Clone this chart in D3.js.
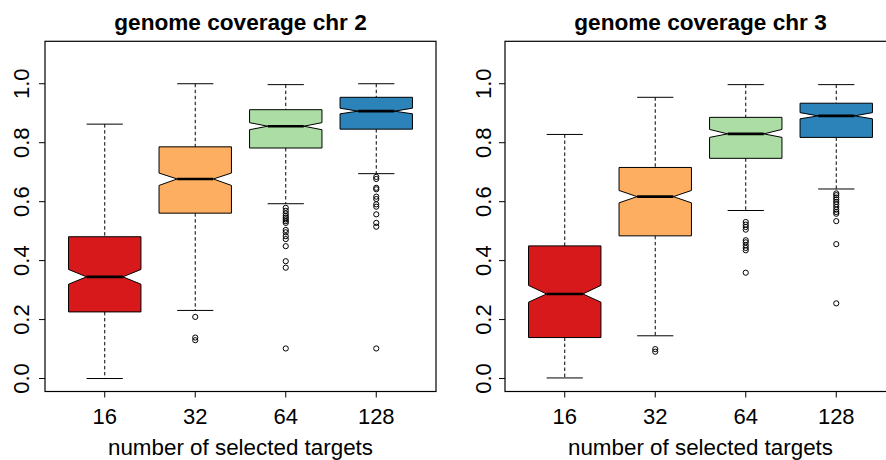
<!DOCTYPE html>
<html>
<head>
<meta charset="utf-8">
<script src="https://cdn.jsdelivr.net/npm/d3@7"></script>
<style>
  html, body { margin: 0; padding: 0; background: #fff; }
  svg { display: block; }
  text { font-family: "Liberation Sans", Arial, Helvetica, sans-serif; fill: #000; }
</style>
</head>
<body>
<svg id="chart" width="886" height="460"></svg>
<script>
// Groups on the x axis
const categories = ["16", "32", "64", "128"];
const boxColors = ["#D7191C", "#FDAE61", "#ABDDA4", "#2B83BA"];
const yTicks = [0.0, 0.2, 0.4, 0.6, 0.8, 1.0];
const yTickLabels = ["0.0", "0.2", "0.4", "0.6", "0.8", "1.0"];
const xAxisTitle = "number of selected targets";

// chromosome 2 summaries, one entry per group
const chr2WhiskerLow  = [0.000, 0.231, 0.593, 0.695];
const chr2Q1          = [0.226, 0.561, 0.782, 0.846];
const chr2Median      = [0.345, 0.677, 0.856, 0.907];
const chr2Q3          = [0.481, 0.786, 0.912, 0.954];
const chr2WhiskerHigh = [0.863, 1.000, 0.997, 1.000];
const chr2NotchLow    = [0.320, 0.655, 0.844, 0.898];
const chr2NotchHigh   = [0.370, 0.697, 0.868, 0.917];
const chr2Outliers = [
  [],
  [0.209, 0.139, 0.130],
  [0.579, 0.569, 0.560, 0.552, 0.546, 0.540, 0.534, 0.528, 0.504, 0.496, 0.483, 0.473, 0.449, 0.398, 0.376, 0.102],
  [0.684, 0.677, 0.647, 0.642, 0.617, 0.609, 0.591, 0.583, 0.557, 0.528, 0.515, 0.102]
];

// chromosome 3 summaries
const chr3WhiskerLow  = [0.002, 0.145, 0.570, 0.643];
const chr3Q1          = [0.139, 0.484, 0.747, 0.818];
const chr3Median      = [0.287, 0.617, 0.830, 0.891];
const chr3Q3          = [0.450, 0.716, 0.886, 0.934];
const chr3WhiskerHigh = [0.828, 0.954, 0.997, 0.997];
const chr3NotchLow    = [0.259, 0.596, 0.818, 0.881];
const chr3NotchHigh   = [0.316, 0.638, 0.845, 0.902];
const chr3Outliers = [
  [],
  [0.0998, 0.091],
  [0.531, 0.522, 0.514, 0.505, 0.469, 0.462, 0.452, 0.443, 0.435, 0.359],
  [0.628, 0.622, 0.614, 0.607, 0.599, 0.591, 0.582, 0.573, 0.565, 0.559, 0.534, 0.456, 0.255]
];

function buildStats(lo, q1, med, q3, hi, nlo, nhi, outs) {
  return categories.map((c, i) => ({
    cat: c, idx: i + 1, color: boxColors[i],
    lo: lo[i], q1: q1[i], med: med[i], q3: q3[i], hi: hi[i],
    nlo: nlo[i], nhi: nhi[i], outliers: outs[i]
  }));
}

const panels = [
  { title: "genome coverage chr 2", left: 45, right: 436, labelX: 28.5,
    stats: buildStats(chr2WhiskerLow, chr2Q1, chr2Median, chr2Q3, chr2WhiskerHigh, chr2NotchLow, chr2NotchHigh, chr2Outliers) },
  { title: "genome coverage chr 3", left: 505, right: 896, labelX: 490.5,
    stats: buildStats(chr3WhiskerLow, chr3Q1, chr3Median, chr3Q3, chr3WhiskerHigh, chr3NotchLow, chr3NotchHigh, chr3Outliers) }
];

const svg = d3.select("#chart");
const plotTop = 41.3, plotBottom = 391.5;
const fontSize = 22;
const titleSize = 22.6;
const labSize = 22.4;

const y = d3.scaleLinear().domain([-0.044, 1.144]).range([plotBottom, plotTop]);

panels.forEach(p => {
  const g = svg.append("g");
  const x = d3.scaleLinear().domain([0.34, 4.66]).range([p.left, p.right]);
  const halfBox = x(1.4) - x(1);        // boxes are 0.8 units wide
  const halfStaple = halfBox * 0.5;
  const notchIn = halfBox * 0.5;

  // plot frame
  g.append("rect")
    .attr("x", p.left).attr("y", plotTop)
    .attr("width", p.right - p.left).attr("height", plotBottom - plotTop)
    .attr("fill", "none").attr("stroke", "#000").attr("stroke-width", 1.2);

  // title
  g.append("text")
    .attr("x", (p.left + p.right) / 2).attr("y", 29.5)
    .attr("text-anchor", "middle")
    .style("font-size", titleSize + "px").style("font-weight", "bold")
    .text(p.title);

  // y axis ticks and rotated labels
  const yAxis = g.append("g");
  yAxis.selectAll("line").data(yTicks).join("line")
    .attr("x1", p.left - 6).attr("x2", p.left)
    .attr("y1", d => y(d)).attr("y2", d => y(d))
    .attr("stroke", "#000").attr("stroke-width", 1);
  yAxis.selectAll("text").data(yTicks).join("text")
    .attr("transform", d => `translate(${p.labelX},${y(d)}) rotate(-90)`)
    .attr("text-anchor", "middle")
    .style("font-size", fontSize + "px")
    .text((d, i) => yTickLabels[i]);

  // x axis ticks and labels
  const xAxis = g.append("g");
  xAxis.selectAll("line").data(p.stats).join("line")
    .attr("x1", d => x(d.idx)).attr("x2", d => x(d.idx))
    .attr("y1", plotBottom).attr("y2", plotBottom + 6)
    .attr("stroke", "#000").attr("stroke-width", 1);
  xAxis.selectAll("text").data(p.stats).join("text")
    .attr("x", d => x(d.idx)).attr("y", 423.5)
    .attr("text-anchor", "middle")
    .style("font-size", fontSize + "px")
    .text(d => d.cat);

  g.append("text")
    .attr("x", (p.left + p.right) / 2).attr("y", 454.5)
    .attr("text-anchor", "middle")
    .style("font-size", labSize + "px")
    .text(xAxisTitle);

  const boxes = g.selectAll("g.box").data(p.stats).join("g").attr("class", "box");

  // dashed whiskers
  boxes.append("line")
    .attr("x1", d => x(d.idx)).attr("x2", d => x(d.idx))
    .attr("y1", d => y(d.hi)).attr("y2", d => y(d.q3))
    .attr("stroke", "#000").attr("stroke-dasharray", "3.5,2.5");
  boxes.append("line")
    .attr("x1", d => x(d.idx)).attr("x2", d => x(d.idx))
    .attr("y1", d => y(d.q1)).attr("y2", d => y(d.lo))
    .attr("stroke", "#000").attr("stroke-dasharray", "3.5,2.5");

  // staples
  ["hi", "lo"].forEach(k => {
    boxes.append("line")
      .attr("x1", d => x(d.idx) - halfStaple).attr("x2", d => x(d.idx) + halfStaple)
      .attr("y1", d => y(d[k])).attr("y2", d => y(d[k]))
      .attr("stroke", "#000").attr("stroke-width", 1);
  });

  // notched boxes
  boxes.append("path")
    .attr("d", d => {
      const cx = x(d.idx);
      const pts = [
        [cx - halfBox, y(d.q1)],
        [cx - halfBox, y(d.nlo)],
        [cx - halfBox + notchIn, y(d.med)],
        [cx - halfBox, y(d.nhi)],
        [cx - halfBox, y(d.q3)],
        [cx + halfBox, y(d.q3)],
        [cx + halfBox, y(d.nhi)],
        [cx + halfBox - notchIn, y(d.med)],
        [cx + halfBox, y(d.nlo)],
        [cx + halfBox, y(d.q1)]
      ];
      return d3.line()(pts) + "Z";
    })
    .attr("fill", d => d.color)
    .attr("stroke", "#000").attr("stroke-width", 1);

  // medians
  boxes.append("line")
    .attr("x1", d => x(d.idx) - halfBox + notchIn).attr("x2", d => x(d.idx) + halfBox - notchIn)
    .attr("y1", d => y(d.med)).attr("y2", d => y(d.med))
    .attr("stroke", "#000").attr("stroke-width", 2.6);

  // outliers
  boxes.each(function(d) {
    d3.select(this).selectAll("circle").data(d.outliers).join("circle")
      .attr("cx", x(d.idx)).attr("cy", v => y(v))
      .attr("r", 2.6)
      .attr("fill", "none").attr("stroke", "#000").attr("stroke-width", 1);
  });
});
</script>
</body>
</html>
